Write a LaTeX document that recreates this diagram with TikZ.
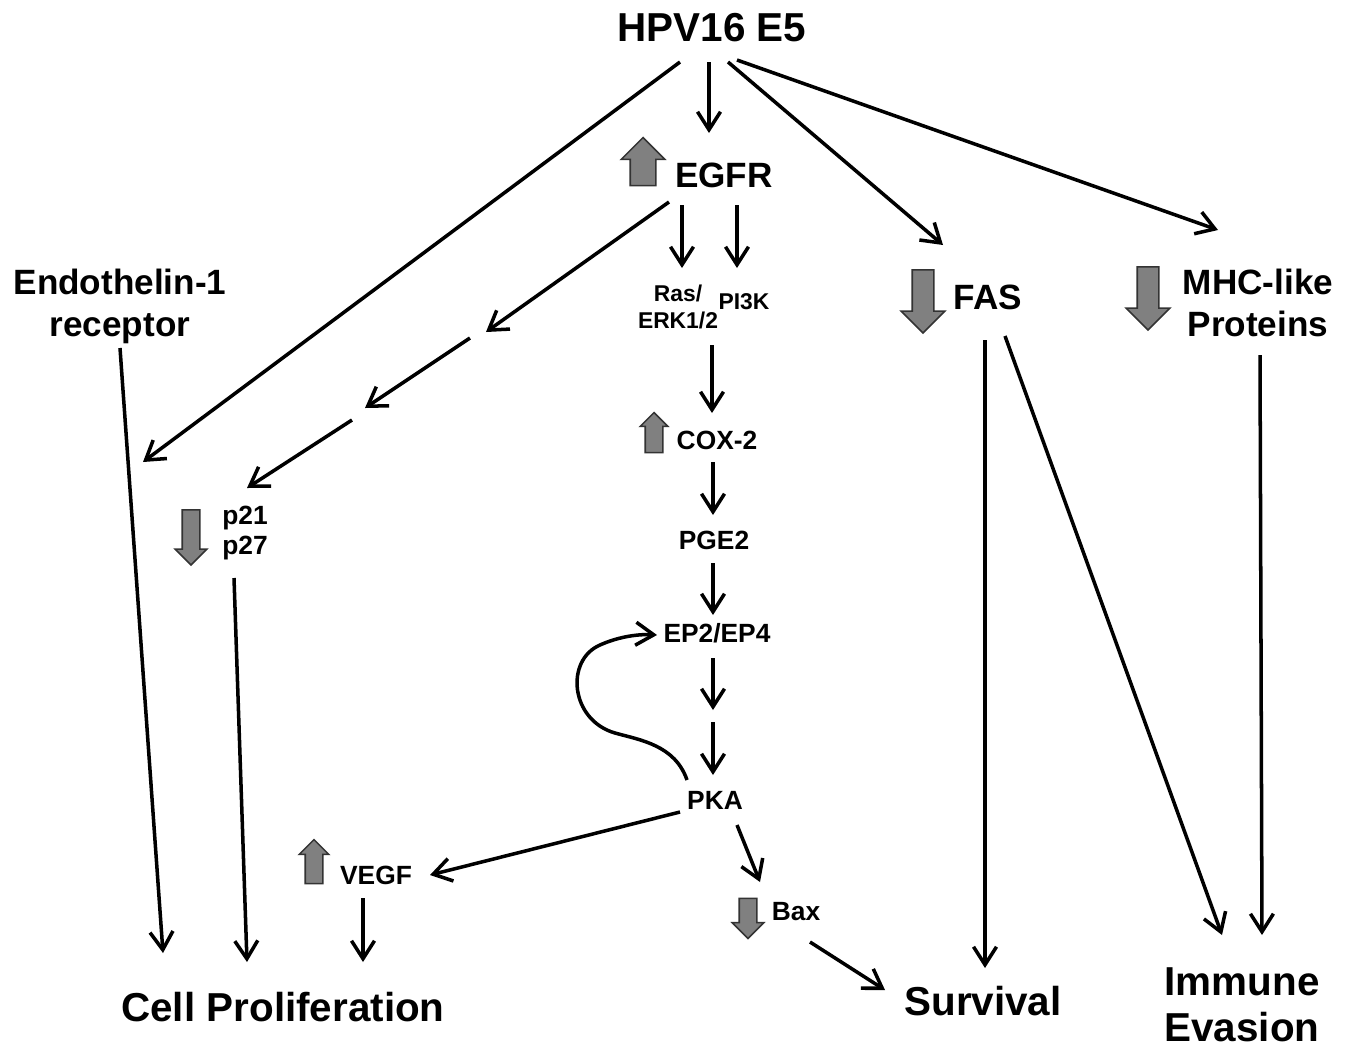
\documentclass[tikz,border=0pt]{standalone}
\usepackage{fontspec}
\setmainfont{Liberation Sans}
\usetikzlibrary{arrows.meta,shapes.arrows,calc}

\tikzset{
  arr/.style={-{Straight Barb[length=3.6mm,width=4.6mm]}, line width=2pt},
  blk/.style={single arrow, draw=black!80, fill=black!50, line width=0.9pt, inner sep=0pt, single arrow head extend=#1},
  huge/.style={font=\fontsize{23}{26}\selectfont\bfseries, align=center, inner sep=2pt},
  big/.style={font=\fontsize{20}{24}\selectfont\bfseries, align=center, inner sep=2pt},
  mid/.style={font=\fontsize{15}{17}\selectfont\bfseries, align=left, inner sep=2pt},
  tiny/.style={font=\fontsize{13}{15.3}\selectfont\bfseries, align=center, inner sep=2pt},
}

\begin{document}
\begin{tikzpicture}[x=0.02cm, y=-0.02cm]
\useasboundingbox (0,0) rectangle (1356,1049);

% labels
\node[huge] (hpv) at (712,28) {HPV16 E5};
\node[big] (egfr) at (724,175) {EGFR};
\node[blk=0.18cm, inner ysep=0.24cm, minimum height=0.96cm, rotate=90] (egfrup) at (643,168) {};
\node[big] (endo) at (120,306) {Endothelin-1\\receptor};
\node[tiny] (ras) at (678,307) {Ras/\\ERK1/2};
\node[tiny] (pik) at (744,302) {PI3K};
\node[blk=0.22cm, inner ysep=0.2cm, minimum height=1.26cm, rotate=-90] (fasdown) at (923,296) {};
\node[big] (fas) at (988,297) {FAS};
\node[blk=0.22cm, inner ysep=0.2cm, minimum height=1.26cm, rotate=-90] (mhcdown) at (1148,293) {};
\node[big] (mhc) at (1258,303) {MHC-like\\Proteins};
\node[blk=0.1cm, inner ysep=0.16cm, minimum height=0.8cm, rotate=90] (coxup) at (654,437) {};
\node[mid] (cox) at (717,440) {COX-2};
\node[mid] (pge) at (714,540) {PGE2};
\node[mid] (ep) at (717,633) {EP2/EP4};
\node[mid] (pka) at (715,800) {PKA};
\node[blk=0.14cm, inner ysep=0.16cm, minimum height=1.1cm, rotate=-90] (p21down) at (191,533) {};
\node[mid] (p21) at (245,533) {p21\\p27};
\node[blk=0.12cm, inner ysep=0.16cm, minimum height=0.88cm, rotate=90] (vegfup) at (314,866) {};
\node[mid] (vegf) at (376,875) {VEGF};
\node[blk=0.14cm, inner ysep=0.16cm, minimum height=0.8cm, rotate=-90] (baxdown) at (748,914) {};
\node[mid] (bax) at (796,912) {Bax};
\node[huge] (prolif) at (283,1007) {Cell Proliferation};
\node[huge] (surv) at (983,1001) {Survival};
\node[huge, font=\fontsize{23}{26.5}\selectfont\bfseries] (immune) at (1242,1005) {Immune\\Evasion};

% free ends
\coordinate (endotip) at (143,462);
\coordinate (g1) at (486,332);
\coordinate (g2) at (470,338);
\coordinate (g3) at (365,408);
\coordinate (g4) at (352,420);
\coordinate (epmid) at (713,710);
\coordinate (epmid2) at (713,722);

% from HPV16 E5
\draw[arr] ($(hpv)+(-32,34)$) -- (endotip);
\draw[arr] ($(hpv)+(-3,34)$) -- ($(egfr)+(-15,-42)$);
\draw[arr] ($(hpv)+(16,34)$) -- ($(fasdown)+(20,-51)$);
\draw[arr] ($(hpv)+(25,32)$) -- ($(mhc)+(-40,-73)$);

% EGFR branch
\draw[arr] ($(egfr)+(-55,27)$) -- (g1);
\draw[arr] (g2) -- (g3);
\draw[arr] (g4) -- ($(p21)+(2,-45)$);
\draw[arr] ($(egfr)+(-42,30)$) -- ($(ras)+(4,-39)$);
\draw[arr] ($(egfr)+(13,30)$) -- ($(pik)+(-7,-34)$);
\draw[arr] ($(ras)+(34,38)$) -- ($(cox)+(-5,-27)$);
\draw[arr] ($(cox)+(-4,22)$) -- ($(pge)+(-1,-25)$);
\draw[arr] ($(pge)+(-1,23)$) -- ($(ep)+(-4,-18)$);
\draw[arr] ($(ep)+(-4,25)$) -- (epmid);
\draw[arr] (epmid2) -- ($(pka)+(-2,-25)$);
\draw[arr] ($(pka)+(-28,-20)$) .. controls ($(pka)+(-40,-55)$) and ($(pka)+(-75,-60)$) .. ($(pka)+(-100,-67)$)
  .. controls ($(pka)+(-145,-80)$) and ($(pka)+(-150,-140)$) .. ($(pka)+(-115,-155)$)
  .. controls ($(pka)+(-95,-164)$) and ($(pka)+(-75,-166)$) .. ($(ep)+(-60,2)$);
\draw[arr] ($(pka)+(-35,12)$) -- ($(vegf)+(54,0)$);
\draw[arr] ($(pka)+(22,25)$) -- ($(baxdown)+(12,-32)$);
\draw[arr] ($(bax)+(14,30)$) -- ($(surv)+(-98,-11)$);

% to outcomes
\draw[arr] ($(vegf)+(-13,23)$) -- ($(prolif)+(80,-45)$);
\draw[arr] ($(p21)+(-11,45)$) -- ($(prolif)+(-36,-45)$);
\draw[arr] ($(endo)+(0,42)$) -- ($(prolif)+(-120,-54)$);
\draw[arr] ($(fas)+(-3,43)$) -- ($(surv)+(2,-33)$);
\draw[arr] ($(fas)+(17,39)$) -- ($(immune)+(-20,-70)$);
\draw[arr] ($(mhc)+(2,52)$) -- ($(immune)+(20,-70)$);
\end{tikzpicture}
\end{document}
